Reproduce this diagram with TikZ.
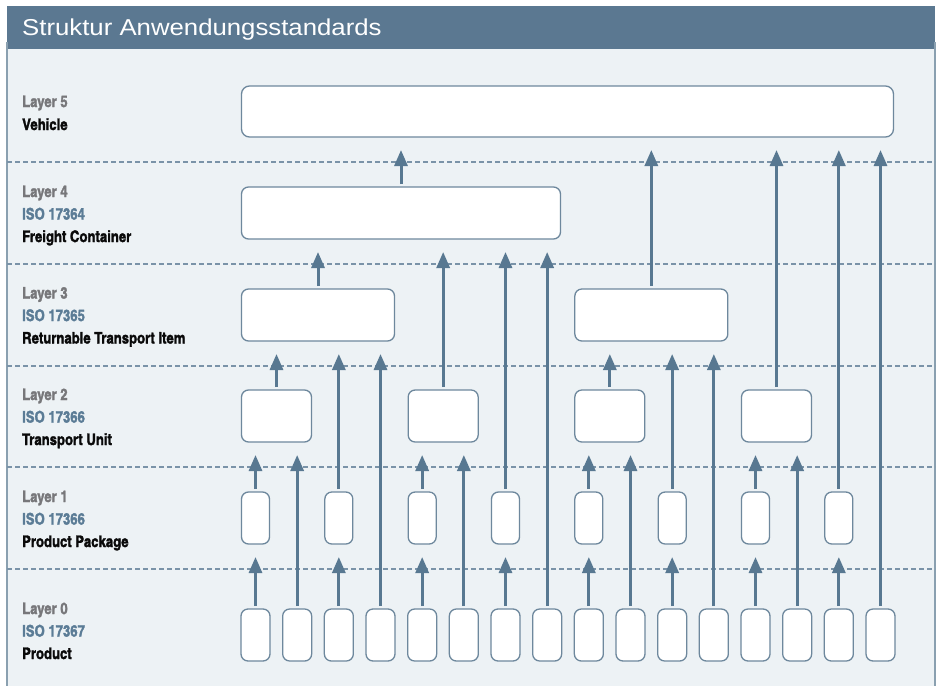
\documentclass[tikz,border=0pt]{standalone}
\usepackage{fontspec}
\setmainfont{Liberation Sans}
\newfontfamily\titlefont{Liberation Sans}[FakeStretch=1.12]
\newfontfamily\cnfont{texgyreheroscn-bold.otf}[FakeBold=1.6]
\usetikzlibrary{arrows.meta}
\definecolor{hdr}{HTML}{5B7891}
\definecolor{panel}{HTML}{EDF2F5}
\definecolor{arrc}{HTML}{587891}
\definecolor{boxc}{HTML}{6E889D}
\definecolor{dashc}{HTML}{7A93A8}
\definecolor{framec}{HTML}{8AA0B0}
\definecolor{lgrey}{HTML}{77777A}
\definecolor{isoc}{HTML}{5B7C96}
\definecolor{namec}{HTML}{0A0A0A}
\begin{document}
\begin{tikzpicture}[x=1pt,y=-1pt,
  box/.style={draw=boxc, line width=1.3pt, fill=white, rounded corners=7pt, inner sep=0pt, outer sep=3pt, minimum height=52pt},
  arr/.style={draw=arrc, line width=3pt, -{Triangle[length=16pt,width=13pt]}},
  layerline/.style={draw=dashc, line width=1.2pt, dash pattern=on 5pt off 3pt},
  lab/.style={anchor=base west, inner sep=0pt, font=\cnfont\fontsize{16}{19}\selectfont},
  labl/.style={lab, text=lgrey},
  labi/.style={lab, text=isoc},
  labn/.style={lab, text=namec},
  titlestyle/.style={anchor=base west, inner sep=0pt, text=white, font=\titlefont\fontsize{23}{27}\selectfont}
]
\useasboundingbox (0,0) rectangle (940,686);
% background
\fill[panel] (7,49) rectangle (935,686);
\fill[hdr] (7,6) rectangle (935,49);
\draw[framec, line width=1.5pt] (7,42) -- (7,686) (935,42) -- (935,686);
\node[titlestyle] (title) at (22,35.7) {Struktur Anwendungsstandards};
% layer separators
\foreach \yy in {162,264,366,467,569} \draw[layerline] (7,\yy) -- (935,\yy);
% labels
\node[labl] (l5a) at (22,107) {Layer 5};
\node[labn] (l5c) at (22,130) {Vehicle};
\foreach \n/\yy/\iso/\name in {4/197/17364/Freight Container, 3/298.5/17365/Returnable Transport Item, 2/400/17366/Transport Unit, 1/502/17366/Product Package, 0/614/17367/Product}{
  \node[labl] (l\n a) at (22,\yy) {Layer \n};
  \node[labi] (l\n b) at (22,\yy+22.5) {ISO \iso};
  \node[labn] (l\n c) at (22,\yy+45) {\name};
}
% boxes
\foreach \k in {0,...,15} \node[box, minimum width=29pt] (L0-\k) at ({255.5+41.667*\k},635) {};
\foreach \k in {0,...,7} \node[box, minimum width=28pt] (L1-\k) at ({255.5+83.333*\k},518) {};
\foreach \k in {0,...,3} \node[box, minimum width=70pt] (L2-\k) at ({276.5+166.667*\k},416) {};
\foreach \k in {0,1} \node[box, minimum width=153pt] (L3-\k) at ({318+333.333*\k},315) {};
\node[box, minimum width=319pt] (L4-0) at (401,213) {};
\node[box, minimum width=652pt, minimum height=51pt, rounded corners=8pt] (L5-0) at (567.5,111.5) {};
% arrows
\foreach \k/\ty in {0/557,2/557,4/557,6/557,8/557,10/557,12/557,14/557,1/455,3/354,5/455,7/252,9/455,11/354,13/455,15/150}{
  \coordinate (T0-\k) at (L0-\k.north |- 0,\ty);
  \draw[arr] (L0-\k.north) -- (T0-\k);
}
\foreach \k/\ty in {0/455,1/354,2/455,3/252,4/455,5/354,6/455,7/150}{
  \coordinate (T1-\k) at (L1-\k.north |- 0,\ty);
  \draw[arr] (L1-\k.north) -- (T1-\k);
}
\foreach \k/\ty in {0/354,1/252,2/354,3/150}{
  \coordinate (T2-\k) at (L2-\k.north |- 0,\ty);
  \draw[arr] (L2-\k.north) -- (T2-\k);
}
\foreach \k/\ty in {0/252,1/150}{
  \coordinate (T3-\k) at (L3-\k.north |- 0,\ty);
  \draw[arr] (L3-\k.north) -- (T3-\k);
}
\coordinate (T4-0) at (L4-0.north |- 0,150);
\draw[arr] (L4-0.north) -- (T4-0);
\end{tikzpicture}
\end{document}
